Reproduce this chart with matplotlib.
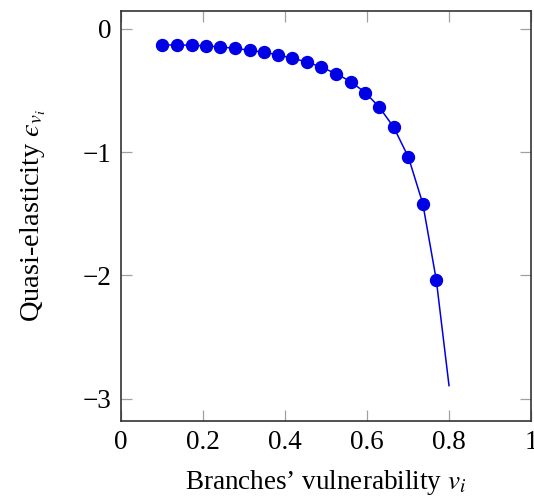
import matplotlib
matplotlib.use("Agg")
import matplotlib.pyplot as plt

# Marker samples
vuln = [0.100, 0.136, 0.172, 0.207, 0.242, 0.278, 0.314, 0.348, 0.384, 0.418,
        0.454, 0.489, 0.525, 0.560, 0.596, 0.630, 0.665, 0.701, 0.736, 0.769]
elast = [-0.130, -0.130, -0.132, -0.138, -0.146, -0.157, -0.173, -0.189, -0.211, -0.238,
         -0.268, -0.311, -0.363, -0.427, -0.517, -0.635, -0.797, -1.041, -1.417, -2.038]

# Curve continues past the last marker
curve_x = vuln + [0.800]
curve_y = elast + [-2.895]

xticks = [0, 0.2, 0.4, 0.6, 0.8, 1]
xtick_labels = ["0", "0.2", "0.4", "0.6", "0.8", "1"]
yticks = [0, -1, -2, -3]
ytick_labels = ["0", "\u22121", "\u22122", "\u22123"]

plt.rcParams['font.family'] = ['Liberation Serif', 'DejaVu Serif']
plt.rcParams['mathtext.fontset'] = 'stix'

fig = plt.figure(figsize=(5.34, 4.97), dpi=100)
ax = fig.add_axes([0.2266, 0.1535, 0.9944 - 0.2266, 0.9779 - 0.1535])

blue = '#0000E6'
ax.plot(curve_x, curve_y, color=blue, lw=1.1, zorder=2)
ax.plot(vuln, elast, 'o', color=blue, ms=8.6, mec=blue, zorder=3)

ax.set_xlim(0, 1)
ax.set_ylim(-3.18, 0.146)
ax.set_xticks(xticks)
ax.set_xticklabels(xtick_labels)
ax.set_yticks(yticks)
ax.set_yticklabels(ytick_labels)

ax.tick_params(direction='in', length=8, width=0.9, color='#A0A0A0',
               top=True, right=True, labelsize=19.5, pad=7)
for s in ax.spines.values():
    s.set_color('#333333')
    s.set_linewidth(1.2)

ax.set_xlabel("Branches\u2019 vulnerability $v_i$", fontsize=19.5, labelpad=9)
ax.set_ylabel("Quasi-elasticity $\u03f5_{v_i}$", fontsize=20.5, labelpad=25)

fig.savefig("out.png", dpi=100)
